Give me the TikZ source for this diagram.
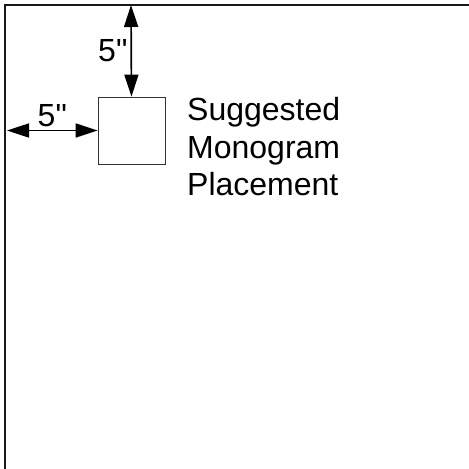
\documentclass[tikz,border=0pt]{standalone}
\usepackage{fontspec}
\setmainfont{Liberation Sans}
\usetikzlibrary{arrows.meta}

\begin{document}
\begin{tikzpicture}[x=1pt,y=-1pt]
		\tikzset{sheet/.style = {line width=1.4pt, black!90}}
		\tikzset{square/.style = {draw=black!80, line width=0.8pt, minimum size=67pt, inner sep=0pt}}
		\tikzset{dim/.style = {{Triangle[length=22pt,width=14pt]}-{Triangle[length=22pt,width=14pt]}, line width=1.7pt}}
		\tikzset{lbl/.style = {font=\fontsize{32}{37.5}\selectfont}}
		
		\useasboundingbox (0,0) rectangle (469,469);
		
		% edges of the page
		\coordinate (corner)  at (  5,   5);
		\coordinate (bottom)  at (  5, 475);
		\coordinate (right)   at (475,   5);
		\coordinate (topedge) at (131,   5);
		\coordinate (leftedge) at ( 7, 130.5);
		\draw[sheet] (bottom) -- (corner) -- (right);
		
		\node[square] (mono) at (131.5, 130.5) {};
		\node[lbl, align=left, anchor=base west, inner sep=0pt] (place) at (187, 195.5)
			{Suggested\\Monogram\\Placement};
		
		\draw[dim] (topedge) -- node[lbl, midway, left, inner sep=3pt] (toplbl) {5\textquotedbl} (mono.north);
		\draw[dim] (leftedge) -- node[lbl, midway, above, inner sep=3pt] (leftlbl) {5\textquotedbl} (mono.west);
\end{tikzpicture}
\end{document}
